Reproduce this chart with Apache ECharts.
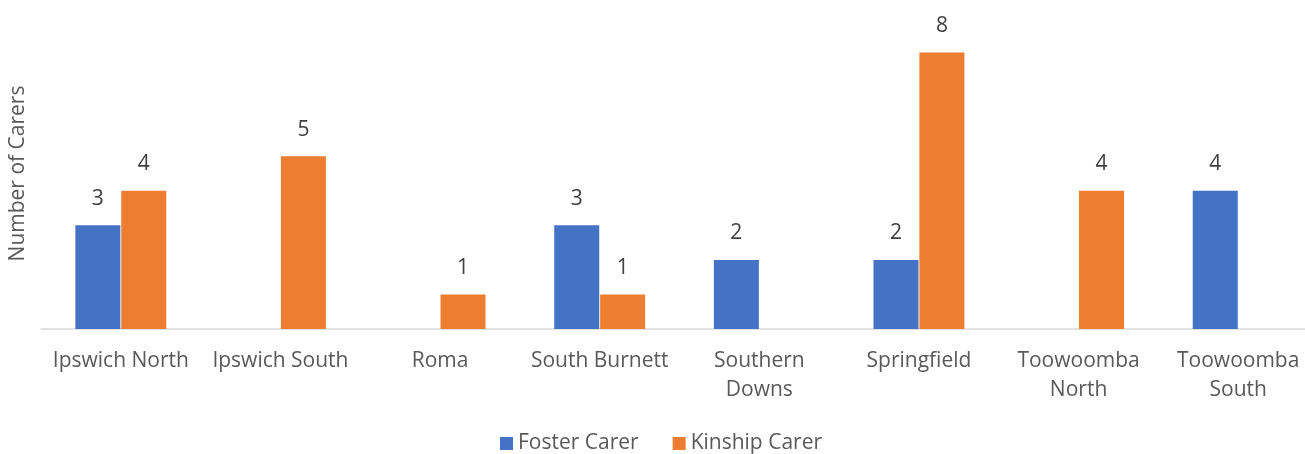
<!DOCTYPE html>
<html>
<head>
<meta charset="utf-8">
<style>
  html, body { margin: 0; padding: 0; background: #fff; overflow: hidden; }
  #chart { width: 1318px; height: 454px; }
</style>
<script src="https://cdn.jsdelivr.net/npm/echarts@6/dist/echarts.min.js"></script>
</head>
<body>
<div id="chart"></div>
<script>
// Carers per service centre
const regions = ['Ipswich North', 'Ipswich South', 'Roma', 'South Burnett', 'Southern\nDowns', 'Springfield', 'Toowoomba\nNorth', 'Toowoomba\nSouth'];
const fosterCarers = [3, null, null, 3, 2, 2, null, 4];
const kinshipCarers = [4, 5, 1, 1, null, 8, 4, null];

const FONT = '"Open Sans", "Liberation Sans", Arial, sans-serif';
const TEXT = '#595959';

const chart = echarts.init(document.getElementById('chart'), null, { renderer: 'canvas' });

const labelStyle = {
  show: true,
  position: 'top',
  distance: 16,
  color: '#404040',
  fontFamily: FONT,
  fontSize: 21
};

chart.setOption({
  animation: false,
  textStyle: { fontFamily: FONT },
  grid: { left: 35, right: 0, top: 18, bottom: 125, containLabel: false },
  legend: {
    top: 428,
    left: 495,
    itemWidth: 13,
    itemHeight: 13,
    itemGap: 34,
    icon: 'rect',
    textStyle: { color: TEXT, fontSize: 21, fontFamily: FONT },
    data: ['Foster Carer', 'Kinship Carer']
  },
  xAxis: {
    type: 'category',
    data: regions,
    axisLine: { lineStyle: { color: '#d9d9d9', width: 1.5 } },
    axisTick: { show: false },
    axisLabel: {
      color: TEXT,
      fontSize: 21,
      fontFamily: FONT,
      lineHeight: 29,
      margin: 18,
      interval: 0
    }
  },
  yAxis: {
    type: 'value',
    min: 0,
    max: 9,
    interval: 1,
    name: 'Number of Carers',
    nameLocation: 'middle',
    nameGap: 12,
    nameRotate: 90,
    nameTextStyle: { color: TEXT, fontSize: 21, fontFamily: FONT },
    axisLine: { show: false },
    axisTick: { show: false },
    axisLabel: { show: false },
    splitLine: { show: false }
  },
  series: [
    {
      name: 'Foster Carer',
      type: 'bar',
      data: fosterCarers,
      barWidth: 45,
      barGap: '2%',
      itemStyle: { color: '#4472C4' },
      label: labelStyle
    },
    {
      name: 'Kinship Carer',
      type: 'bar',
      data: kinshipCarers,
      barWidth: 45,
      barGap: '2%',
      itemStyle: { color: '#ED7D31' },
      label: labelStyle
    }
  ]
});
</script>
</body>
</html>
